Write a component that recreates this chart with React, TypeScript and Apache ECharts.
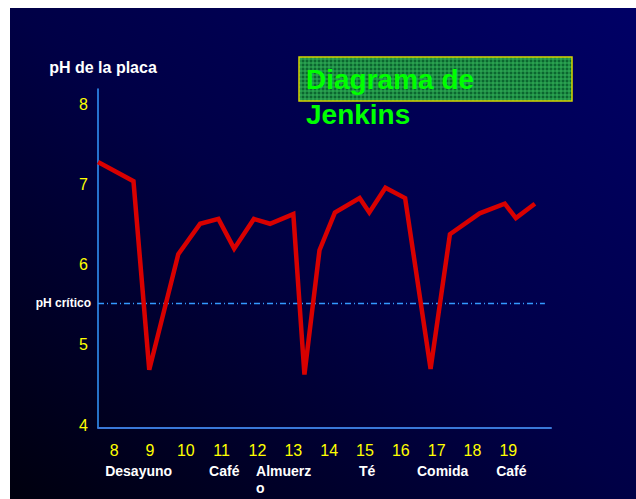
import React, { useEffect, useRef } from "react";
import * as echarts from "echarts";

const hours = [7.55, 8.54, 8.98, 9.79, 10.4, 10.91, 11.35, 11.9, 12.35, 13.0, 13.31, 13.73, 14.16, 14.85, 15.12, 15.57, 16.12, 16.83, 17.37, 18.2, 18.9, 19.21, 19.74];
const phValues = [7.28, 7.04, 4.69, 6.13, 6.51, 6.57, 6.2, 6.57, 6.51, 6.63, 4.63, 6.18, 6.65, 6.83, 6.65, 6.96, 6.83, 4.7, 6.38, 6.64, 6.76, 6.58, 6.76];

const hourTicks = [8, 9, 10, 11, 12, 13, 14, 15, 16, 17, 18, 19];
const phTicks = [4, 5, 6, 7, 8];

// Meal annotations (left edge hour) and names
const mealHours = [7.75, 10.65, 11.96, 14.83, 16.45, 18.66];
const mealNames = ["Desayuno", "Café", "Almuerz\no", "Té", "Comida", "Café"];

const criticalPH = 5.52;
const criticalLabel = "pH crítico";
const yTitle = "pH de la placa";
const titleLine1 = "Diagrama de";
const titleLine2 = "Jenkins";

const FONT = "'Liberation Sans', Arial, Helvetica, sans-serif";

export default function App() {
  const ref = useRef<HTMLDivElement>(null);

  useEffect(() => {
    if (!ref.current) return;
    const chart = echarts.init(ref.current, null, { renderer: "svg" });

    const boxX = 299, boxY = 57, boxW = 273, boxH = 44;
    const gridLines: any[] = [];
    for (let x = boxX + 2; x < boxX + boxW; x += 4) {
      gridLines.push({ type: "line", shape: { x1: x, y1: boxY, x2: x, y2: boxY + boxH }, style: { stroke: "#34b45a", lineWidth: 1 }, z: 101 });
    }
    for (let y = boxY + 2; y < boxY + boxH; y += 4) {
      gridLines.push({ type: "line", shape: { x1: boxX, y1: y, x2: boxX + boxW, y2: y }, style: { stroke: "#34b45a", lineWidth: 1 }, z: 101 });
    }

    const xMin = 7.55, xMax = 20.19;

    chart.setOption({
      animation: false,
      backgroundColor: "#ffffff",
      grid: { left: 98, top: 89, right: 85, bottom: 71.5, containLabel: false },
      xAxis: [
        {
          type: "value",
          min: xMin,
          max: xMax,
          position: "bottom",
          axisLine: { show: true, onZero: false, lineStyle: { color: "#3a78d8", width: 2 } },
          axisTick: { show: false },
          splitLine: { show: false },
          axisLabel: {
            customValues: hourTicks,
            formatter: (v: number) => String(Math.round(v)),
            color: "#ffff00",
            fontSize: 16,
            fontFamily: FONT,
            margin: 15,
          },
        },
        {
          type: "value",
          min: xMin,
          max: xMax,
          position: "bottom",
          axisLine: { show: false },
          axisTick: { show: false },
          splitLine: { show: false },
          axisLabel: {
            customValues: mealHours,
            formatter: (v: number) => {
              const i = mealHours.findIndex((h) => Math.abs(h - v) < 1e-6);
              return i >= 0 ? mealNames[i] : "";
            },
            align: "left",
            color: "#ffffff",
            fontSize: 14,
            fontWeight: "bold",
            fontFamily: FONT,
            lineHeight: 17,
            margin: 35,
          },
        },
      ],
      yAxis: {
        type: "value",
        min: 3.97,
        max: 8.19,
        axisLine: { show: true, lineStyle: { color: "#3399ff", width: 1.5 } },
        axisTick: { show: false },
        splitLine: { show: false },
        axisLabel: {
          customValues: phTicks,
          formatter: (v: number) => String(Math.round(v)),
          color: "#ffff00",
          fontSize: 16,
          fontFamily: FONT,
          margin: 10,
        },
      },
      series: [
        {
          type: "line",
          data: hours.map((h, i) => [h, phValues[i]]),
          showSymbol: false,
          symbol: "none",
          lineStyle: { color: "#d80000", width: 4.5, join: "miter" },
          z: 5,
          markLine: {
            silent: true,
            symbol: ["none", "none"],
            lineStyle: { color: "#3399ff", width: 1.3, type: [6, 3, 1, 3] },
            label: {
              show: true,
              position: "start",
              formatter: criticalLabel,
              color: "#ffffff",
              fontSize: 12,
              fontWeight: "bold",
              fontFamily: FONT,
              distance: 7,
            },
            data: [[{ coord: [xMin, criticalPH] }, { coord: [20.02, criticalPH] }]],
          },
        },
      ],
      graphic: [
        {
          type: "rect",
          z: -100,
          shape: { x: 10, y: 8, width: 626, height: 491 },
          style: {
            fill: new echarts.graphic.LinearGradient(1, 0, 0, 1, [
              { offset: 0, color: "#000066" },
              { offset: 0.5, color: "#000046" },
              { offset: 1, color: "#00000e" },
            ]),
          },
        },
        {
          type: "text",
          z: 100,
          x: 103,
          y: 67,
          style: { text: yTitle, fill: "#ffffff", font: `bold 16px ${FONT}`, textAlign: "center", textVerticalAlign: "middle" },
        },
        {
          type: "rect",
          z: 100,
          shape: { x: boxX, y: boxY, width: boxW, height: boxH },
          style: { fill: "#0b6630" },
        },
        ...gridLines,
        {
          type: "rect",
          z: 102,
          shape: { x: boxX, y: boxY, width: boxW, height: boxH },
          style: { fill: "none", stroke: "#d8d800", lineWidth: 1.5 },
        },
        {
          type: "text",
          z: 103,
          x: 306,
          y: 79,
          style: { text: titleLine1, fill: "#00ff00", font: `bold 28px ${FONT}`, textAlign: "left", textVerticalAlign: "middle" },
        },
        {
          type: "text",
          z: 103,
          x: 306,
          y: 114.5,
          style: { text: titleLine2, fill: "#00ff00", font: `bold 28px ${FONT}`, textAlign: "left", textVerticalAlign: "middle" },
        },
      ],
    });

    return () => chart.dispose();
  }, []);

  return (
    <div
      ref={ref}
      style={{ position: "fixed", left: 0, top: 0, width: 636, height: 499 }}
    />
  );
}
